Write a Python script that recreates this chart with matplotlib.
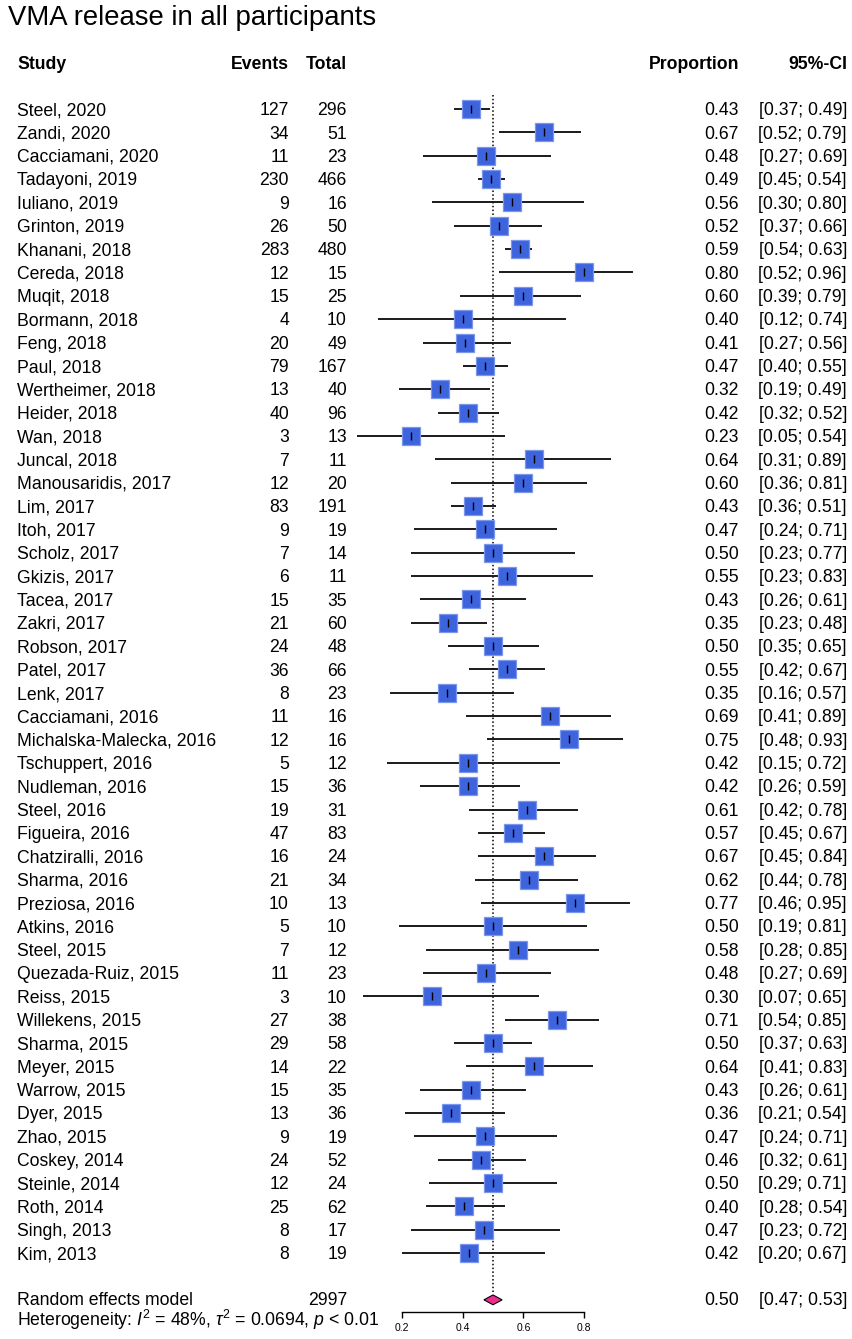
import matplotlib
matplotlib.use("Agg")
import matplotlib.pyplot as plt
import matplotlib.transforms as mtransforms
import numpy as np

plt.rcParams['font.family'] = ['Liberation Sans', 'DejaVu Sans']
plt.rcParams['mathtext.fontset'] = 'custom'
plt.rcParams['mathtext.rm'] = 'Liberation Sans'
plt.rcParams['mathtext.it'] = 'Liberation Sans:italic'

# study data
studies = ["Steel, 2020", "Zandi, 2020", "Cacciamani, 2020", "Tadayoni, 2019", "Iuliano, 2019",
           "Grinton, 2019", "Khanani, 2018", "Cereda, 2018", "Muqit, 2018", "Bormann, 2018",
           "Feng, 2018", "Paul, 2018", "Wertheimer, 2018", "Heider, 2018", "Wan, 2018",
           "Juncal, 2018", "Manousaridis, 2017", "Lim, 2017", "Itoh, 2017", "Scholz, 2017",
           "Gkizis, 2017", "Tacea, 2017", "Zakri, 2017", "Robson, 2017", "Patel, 2017",
           "Lenk, 2017", "Cacciamani, 2016", "Michalska-Malecka, 2016", "Tschuppert, 2016",
           "Nudleman, 2016", "Steel, 2016", "Figueira, 2016", "Chatziralli, 2016", "Sharma, 2016",
           "Preziosa, 2016", "Atkins, 2016", "Steel, 2015", "Quezada-Ruiz, 2015", "Reiss, 2015",
           "Willekens, 2015", "Sharma, 2015", "Meyer, 2015", "Warrow, 2015", "Dyer, 2015",
           "Zhao, 2015", "Coskey, 2014", "Steinle, 2014", "Roth, 2014", "Singh, 2013", "Kim, 2013"]
events = [127, 34, 11, 230, 9, 26, 283, 12, 15, 4, 20, 79, 13, 40, 3, 7, 12, 83, 9, 7,
          6, 15, 21, 24, 36, 8, 11, 12, 5, 15, 19, 47, 16, 21, 10, 5, 7, 11, 3, 27,
          29, 14, 15, 13, 9, 24, 12, 25, 8, 8]
totals = [296, 51, 23, 466, 16, 50, 480, 15, 25, 10, 49, 167, 40, 96, 13, 11, 20, 191, 19, 14,
          11, 35, 60, 48, 66, 23, 16, 16, 12, 36, 31, 83, 24, 34, 13, 10, 12, 23, 10, 38,
          58, 22, 35, 36, 19, 52, 24, 62, 17, 19]
prop = [0.43, 0.67, 0.48, 0.49, 0.56, 0.52, 0.59, 0.80, 0.60, 0.40, 0.41, 0.47, 0.32, 0.42, 0.23,
        0.64, 0.60, 0.43, 0.47, 0.50, 0.55, 0.43, 0.35, 0.50, 0.55, 0.35, 0.69, 0.75, 0.42, 0.42,
        0.61, 0.57, 0.67, 0.62, 0.77, 0.50, 0.58, 0.48, 0.30, 0.71, 0.50, 0.64, 0.43, 0.36, 0.47,
        0.46, 0.50, 0.40, 0.47, 0.42]
lower = [0.37, 0.52, 0.27, 0.45, 0.30, 0.37, 0.54, 0.52, 0.39, 0.12, 0.27, 0.40, 0.19, 0.32, 0.05,
         0.31, 0.36, 0.36, 0.24, 0.23, 0.23, 0.26, 0.23, 0.35, 0.42, 0.16, 0.41, 0.48, 0.15, 0.26,
         0.42, 0.45, 0.45, 0.44, 0.46, 0.19, 0.28, 0.27, 0.07, 0.54, 0.37, 0.41, 0.26, 0.21, 0.24,
         0.32, 0.29, 0.28, 0.23, 0.20]
upper = [0.49, 0.79, 0.69, 0.54, 0.80, 0.66, 0.63, 0.96, 0.79, 0.74, 0.56, 0.55, 0.49, 0.52, 0.54,
         0.89, 0.81, 0.51, 0.71, 0.77, 0.83, 0.61, 0.48, 0.65, 0.67, 0.57, 0.89, 0.93, 0.72, 0.59,
         0.78, 0.67, 0.84, 0.78, 0.95, 0.81, 0.85, 0.69, 0.65, 0.85, 0.63, 0.83, 0.61, 0.54, 0.71,
         0.61, 0.71, 0.54, 0.72, 0.67]

pooled_total = 2997
pooled_est = 0.50
pooled_lo = 0.47
pooled_hi = 0.53
x_ticks = [0.2, 0.4, 0.6, 0.8]

W, H = 852, 1339
fig = plt.figure(figsize=(W / 100, H / 100), dpi=100)

# forest panel: x 0.2..0.8 spans pixel 402..584, rows spaced 23.35 px from y=109
row_px = 23.35
top_px, bot_px = 86, 1312
y_top = (top_px - 109) / row_px
y_bot = (bot_px - 109) / row_px
ax = fig.add_axes([402 / W, 1 - bot_px / H, 182 / W, (bot_px - top_px) / H])
ax.set_xlim(x_ticks[0], x_ticks[-1])
ax.set_ylim(y_bot, y_top)
for s in ['top', 'left', 'right']:
    ax.spines[s].set_visible(False)
ax.spines['bottom'].set_linewidth(1.0)
ax.set_yticks([])
ax.set_xticks(x_ticks)
ax.set_xticklabels([f"{t:.1f}" for t in x_ticks], fontsize=7.5)
ax.tick_params(axis='x', direction='out', length=4, width=1.0, pad=4)
ax.patch.set_visible(False)

rows = np.arange(len(studies))
est = np.array(events) / np.array(totals)

ax.hlines(rows, lower, upper, color='#1a1a1a', lw=1.4, zorder=2, clip_on=False)
ax.plot(est, rows, 's', ms=13.6, mfc='#3d63dd', mec='#7b97ec', mew=0.9,
        zorder=3, clip_on=False, ls='none')
ax.plot(est, rows, '|', ms=5.2, color='black', mew=1.0, zorder=4, clip_on=False, ls='none')

pool_row = 51.0
ax.plot([pooled_est, pooled_est], [-0.6, pool_row - 0.25], ls=(0, (1, 1.5)),
        color='black', lw=1.1, zorder=1)
dh = 0.21
ax.fill([pooled_lo, pooled_est, pooled_hi, pooled_est],
        [pool_row, pool_row - dh, pool_row, pool_row + dh],
        facecolor='#ec2d8f', edgecolor='black', lw=0.8, zorder=5, clip_on=False)

# text columns
base = mtransforms.blended_transform_factory(fig.transFigure, ax.transData)
trans = mtransforms.offset_copy(base, fig=fig, y=-4.5, units='points')
fs = 12.7

def col(px):
    return px / W

header_row = (63 - 109) / row_px
hdr = dict(fontsize=fs, fontweight='bold', va='baseline', transform=trans)
ax.text(col(17), header_row, "Study", ha='left', **hdr)
ax.text(col(289), header_row, "Events", ha='right', **hdr)
ax.text(col(347), header_row, "Total", ha='right', **hdr)
ax.text(col(739), header_row, "Proportion", ha='right', **hdr)
ax.text(col(847), header_row, "95%-CI", ha='right', **hdr)

txt = dict(fontsize=fs, va='baseline', transform=trans)
for i, name in enumerate(studies):
    ax.text(col(17), i, name, ha='left', **txt)
    ax.text(col(289), i, str(events[i]), ha='right', **txt)
    ax.text(col(347), i, str(totals[i]), ha='right', **txt)
    ax.text(col(739), i, f"{prop[i]:.2f}", ha='right', **txt)
    ax.text(col(847), i, f"[{lower[i]:.2f}; {upper[i]:.2f}]", ha='right', **txt)

pool_txt_row = (1298.5 - 109) / row_px
ax.text(col(17), pool_txt_row, "Random effects model", ha='left', **txt)
ax.text(col(347), pool_txt_row, str(pooled_total), ha='right', **txt)
ax.text(col(739), pool_txt_row, f"{pooled_est:.2f}", ha='right', **txt)
ax.text(col(847), pool_txt_row, f"[{pooled_lo:.2f}; {pooled_hi:.2f}]", ha='right', **txt)

het_row = (1320 - 109) / row_px
ax.text(col(17), het_row,
        r"Heterogeneity: $I^2$ = 48%, $\tau^2$ = 0.0694, $p$ < 0.01",
        ha='left', **txt)

fig.text(8 / W, 1 - 25 / H, "VMA release in all participants", fontsize=19.8,
         ha='left', va='baseline')

fig.savefig("out.png", dpi=100)
